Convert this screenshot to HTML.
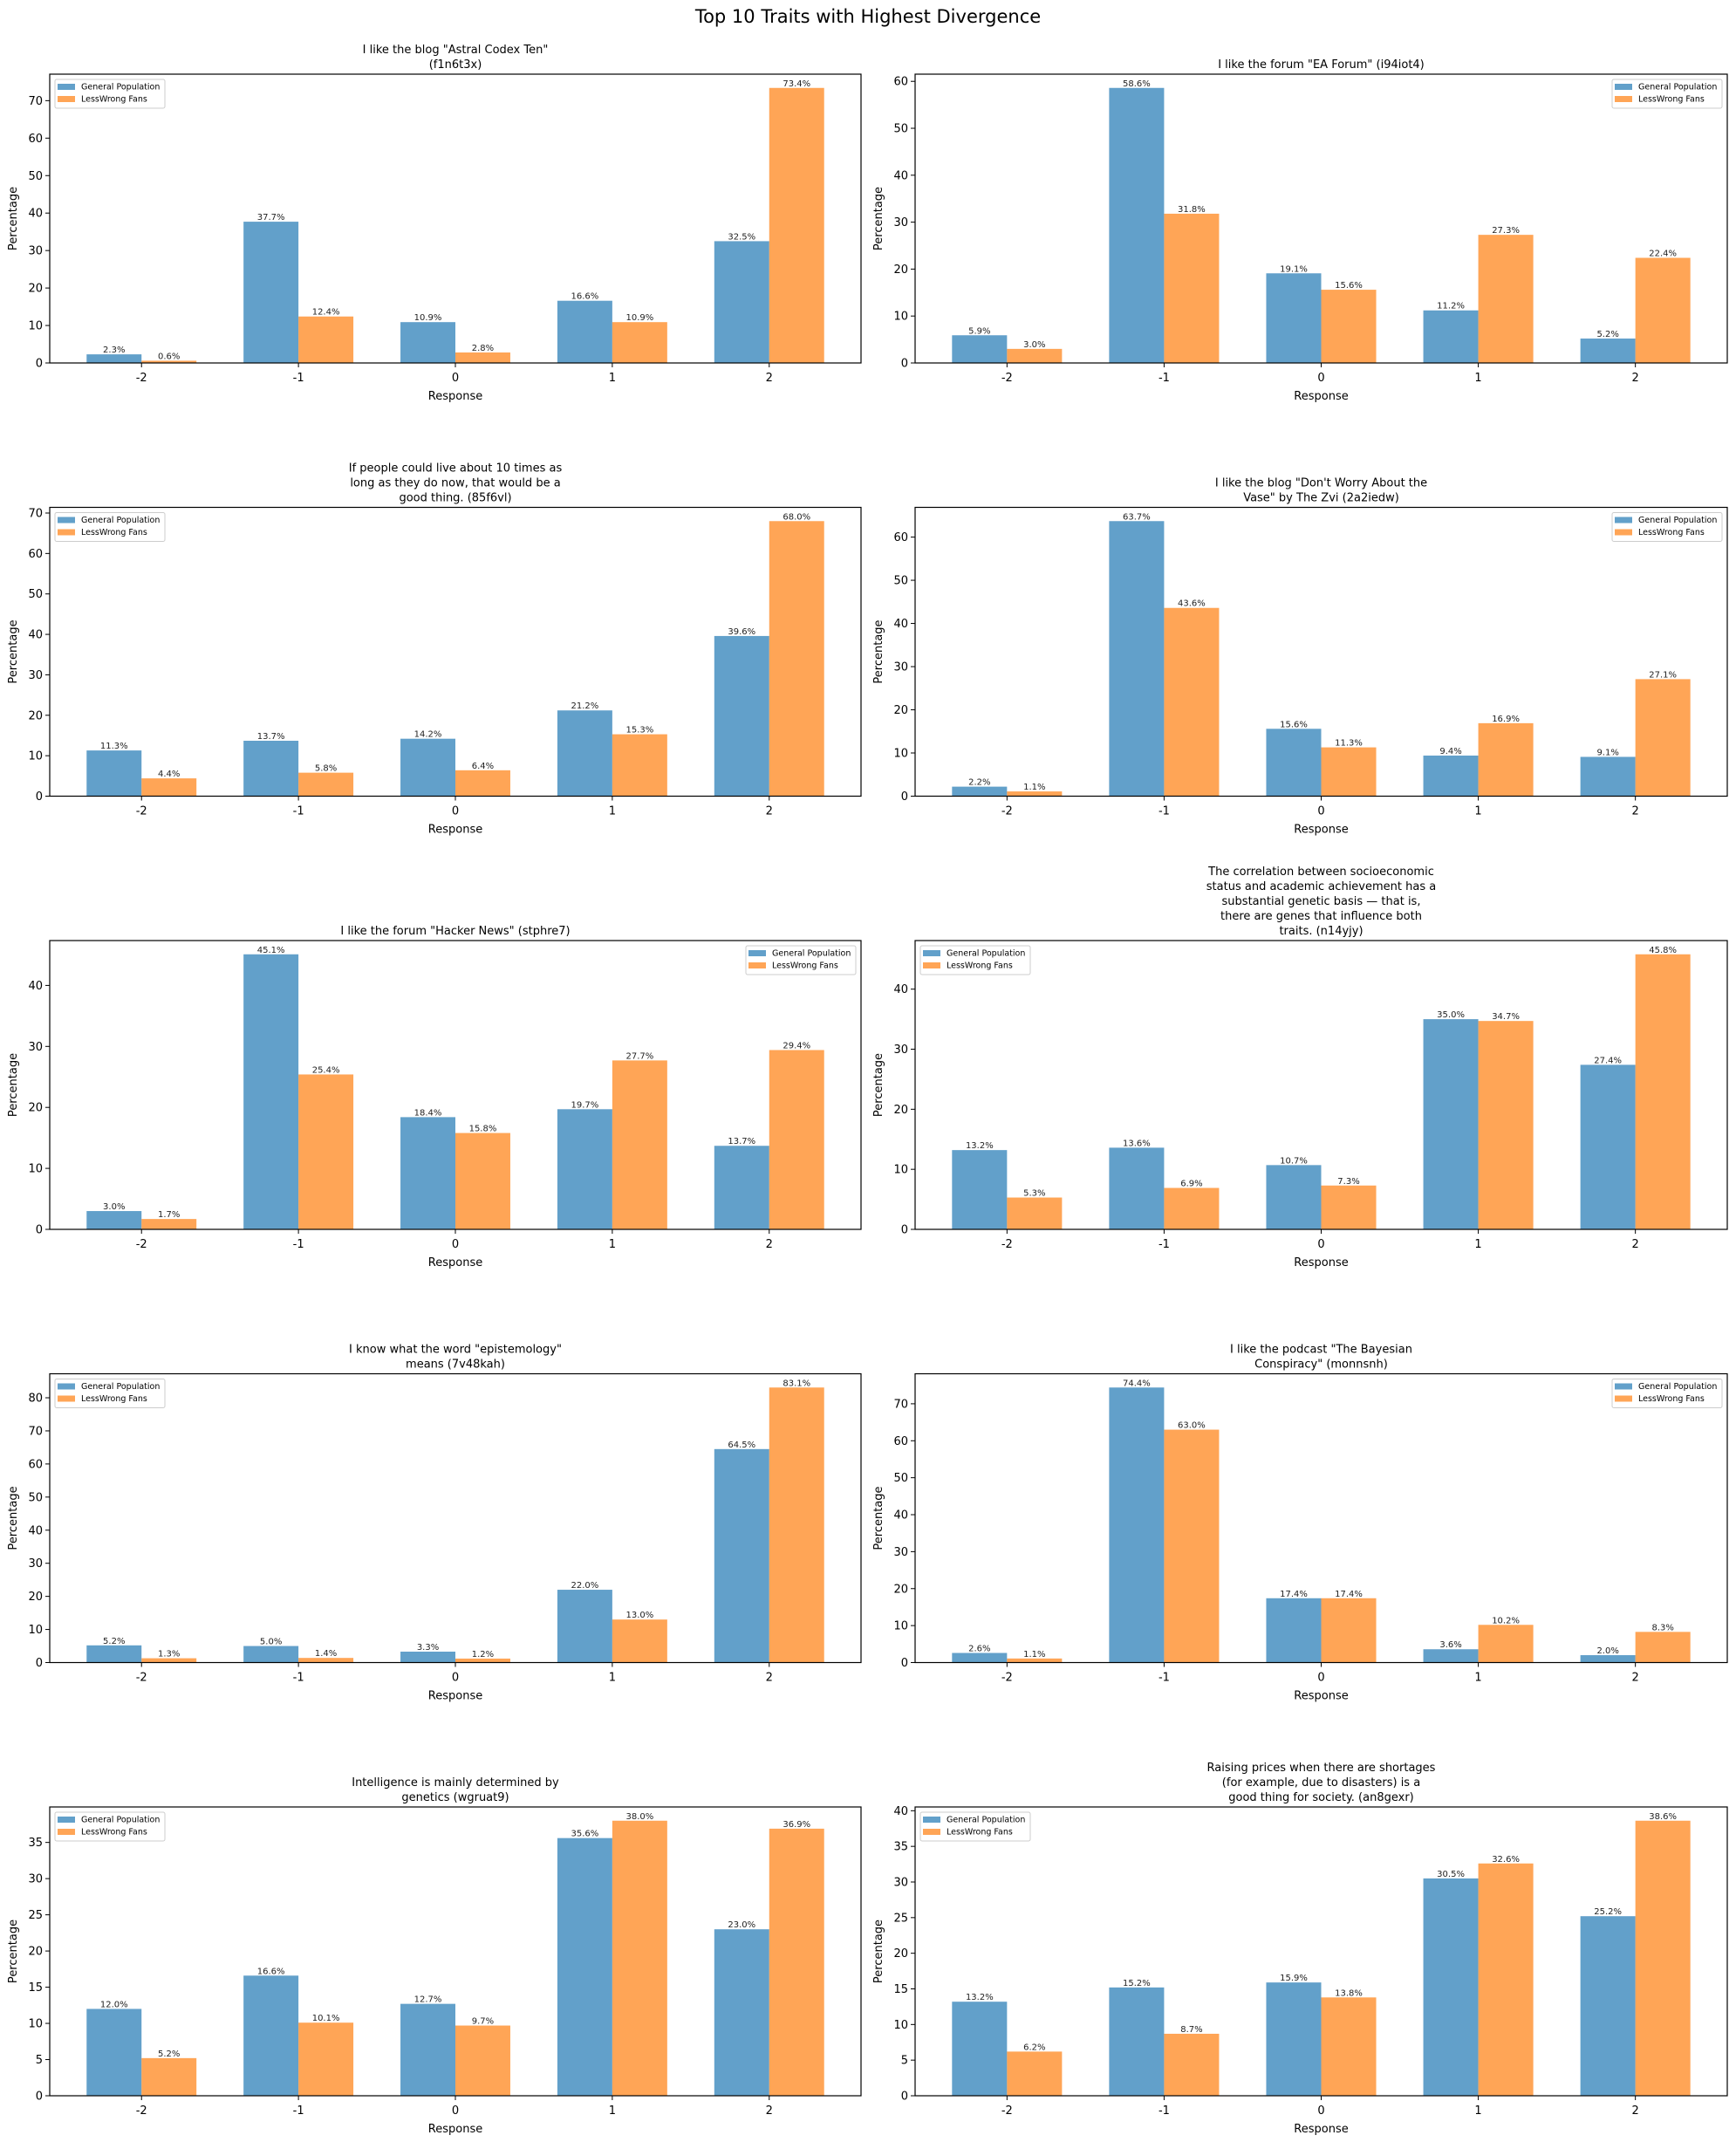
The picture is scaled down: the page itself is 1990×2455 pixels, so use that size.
<!DOCTYPE html>
<html><head><meta charset="utf-8"><style>
html,body{margin:0;padding:0;background:#fff;}
svg{display:block;font-family:"DejaVu Sans","Liberation Sans",sans-serif;}
</style></head><body>
<svg id="fig" width="1990" height="2455" viewBox="0 0 1990 2455" xmlns="http://www.w3.org/2000/svg">
<rect width="1990" height="2455" fill="#fff"/>
<text x="995" y="26" font-size="21" text-anchor="middle" fill="#000">Top 10 Traits with Highest Divergence</text>
</svg>
<script>
const categories = ["-2","-1","0","1","2"];
const titles = [
 ['I like the blog "Astral Codex Ten"','(f1n6t3x)'],
 ['I like the forum "EA Forum" (i94iot4)'],
 ['If people could live about 10 times as','long as they do now, that would be a','good thing. (85f6vl)'],
 ['I like the blog "Don\'t Worry About the','Vase" by The Zvi (2a2iedw)'],
 ['I like the forum "Hacker News" (stphre7)'],
 ['The correlation between socioeconomic','status and academic achievement has a','substantial genetic basis — that is,','there are genes that influence both','traits. (n14yjy)'],
 ['I know what the word "epistemology"','means (7v48kah)'],
 ['I like the podcast "The Bayesian','Conspiracy" (monnsnh)'],
 ['Intelligence is mainly determined by','genetics (wgruat9)'],
 ['Raising prices when there are shortages','(for example, due to disasters) is a','good thing for society. (an8gexr)']
];
const generalPop = [
 [2.3,37.7,10.9,16.6,32.5],
 [5.9,58.6,19.1,11.2,5.2],
 [11.3,13.7,14.2,21.2,39.6],
 [2.2,63.7,15.6,9.4,9.1],
 [3.0,45.1,18.4,19.7,13.7],
 [13.2,13.6,10.7,35.0,27.4],
 [5.2,5.0,3.3,22.0,64.5],
 [2.6,74.4,17.4,3.6,2.0],
 [12.0,16.6,12.7,35.6,23.0],
 [13.2,15.2,15.9,30.5,25.2]
];
const lessWrong = [
 [0.6,12.4,2.8,10.9,73.4],
 [3.0,31.8,15.6,27.3,22.4],
 [4.4,5.8,6.4,15.3,68.0],
 [1.1,43.6,11.3,16.9,27.1],
 [1.7,25.4,15.8,27.7,29.4],
 [5.3,6.9,7.3,34.7,45.8],
 [1.3,1.4,1.2,13.0,83.1],
 [1.1,63.0,17.4,10.2,8.3],
 [5.2,10.1,9.7,38.0,36.9],
 [6.2,8.7,13.8,32.6,38.6]
];
const legendSide = ["left","right","left","right","right","left","left","right","left","left"];
const seriesNames = ["General Population","LessWrong Fans"];

const NS="http://www.w3.org/2000/svg";
const fig=document.getElementById('fig');
function mk(tag,attrs,parent,txt){const e=document.createElementNS(NS,tag);for(const k in attrs)e.setAttribute(k,attrs[k]);if(txt!==undefined)e.textContent=txt;parent.appendChild(e);return e;}
const BLUE="rgba(31,119,180,0.7)", ORANGE="rgba(255,127,14,0.7)";
function niceStep(ymax){
  const cands=[];for(let p=-1;p<=3;p++)for(const m of [1,2,2.5,5])cands.push(m*Math.pow(10,p));
  cands.sort((a,b)=>a-b);
  for(const s of cands){if(Math.floor(ymax/s)+1<=9)return s;}
  return 100;
}
for(let i=0;i<10;i++){
  const col=i%2,row=Math.floor(i/2);
  const L=col===0?57:1049, R=col===0?987:1980;
  const T=85+row*496.5, B=T+331;
  const W=R-L,H=B-T;
  const g=mk('g',{},fig);
  
  
  const gp=generalPop[i], lw=lessWrong[i];
  const ymax=Math.max(...gp,...lw)*1.05;
  const xmin=-0.585,xmax=4.585;
  const xs=v=>L+(v-xmin)/(xmax-xmin)*W;
  const ys=v=>B-v/ymax*H;
  const tl=titles[i];
  tl.forEach((line,k)=>{
    const t=mk('text',{x:(L+R)/2,y:T-7-(tl.length-1-k)*17,'font-size':13,'text-anchor':'middle',fill:'#000'},g,line);
    
    
  });
  const bw=0.35;
  for(let j=0;j<5;j++){
    [[gp,BLUE,-bw,0],[lw,ORANGE,0,1]].forEach(([arr,c,off,s])=>{
      const v=arr[j];
      const x0=xs(j+off),x1=xs(j+off+bw);
      const r=mk('rect',{x:x0,y:ys(v),width:x1-x0,height:ys(0)-ys(v),fill:c},g);
      
      
      const t=mk('text',{x:(x0+x1)/2,y:ys(v)-2,'font-size':10,'text-anchor':'middle',fill:'#222'},g,v.toFixed(1)+'%');
      
      
    });
  }
  const fr=mk('rect',{x:L,y:T,width:W,height:H,fill:'none',stroke:'#000','stroke-width':1.2},g);
  
  
  const st=niceStep(ymax);
  for(let v=0;v<=ymax+1e-9;v+=st){
    const y=ys(v);
    mk('line',{x1:L-5,x2:L,y1:y,y2:y,stroke:'#000','stroke-width':1},g);
    const lab=(Math.abs(v-Math.round(v))<1e-9)?String(Math.round(v)):v.toFixed(1);
    const t=mk('text',{x:L-8,y:y+4.5,'font-size':13,'text-anchor':'end',fill:'#000'},g,lab);
    
    
  }
  categories.forEach((c,j)=>{
    const x=xs(j);
    mk('line',{x1:x,x2:x,y1:B,y2:B+5,stroke:'#000','stroke-width':1},g);
    const t=mk('text',{x:x,y:B+21,'font-size':13,'text-anchor':'middle',fill:'#000'},g,c);
    
    
  });
  const xl=mk('text',{x:(L+R)/2,y:B+42,'font-size':13,'text-anchor':'middle',fill:'#000'},g,'Response');
  
  
  const ylx=L-38;
  const yl=mk('text',{x:ylx,y:(T+B)/2,'font-size':13,'text-anchor':'middle',fill:'#000',transform:`rotate(-90 ${ylx} ${(T+B)/2})`},g,'Percentage');
  
  
  const lwid=126,lh=33;
  const lx=legendSide[i]==='left'?L+6:R-6-lwid, ly=T+6;
  const lg=mk('g',{},g);
  
  
  mk('rect',{x:lx,y:ly,width:lwid,height:lh,rx:2,fill:'#fff','fill-opacity':0.8,stroke:'#ccc','stroke-width':1},lg);
  seriesNames.forEach((n,k)=>{
    const cy=ly+8+k*14;
    mk('rect',{x:lx+3,y:cy-3,width:20,height:7,fill:k?ORANGE:BLUE},lg);
    const t=mk('text',{x:lx+30,y:cy+3.5,'font-size':9.5,fill:'#000'},lg,n);
    
    
  });
}
</script>
</body></html>
